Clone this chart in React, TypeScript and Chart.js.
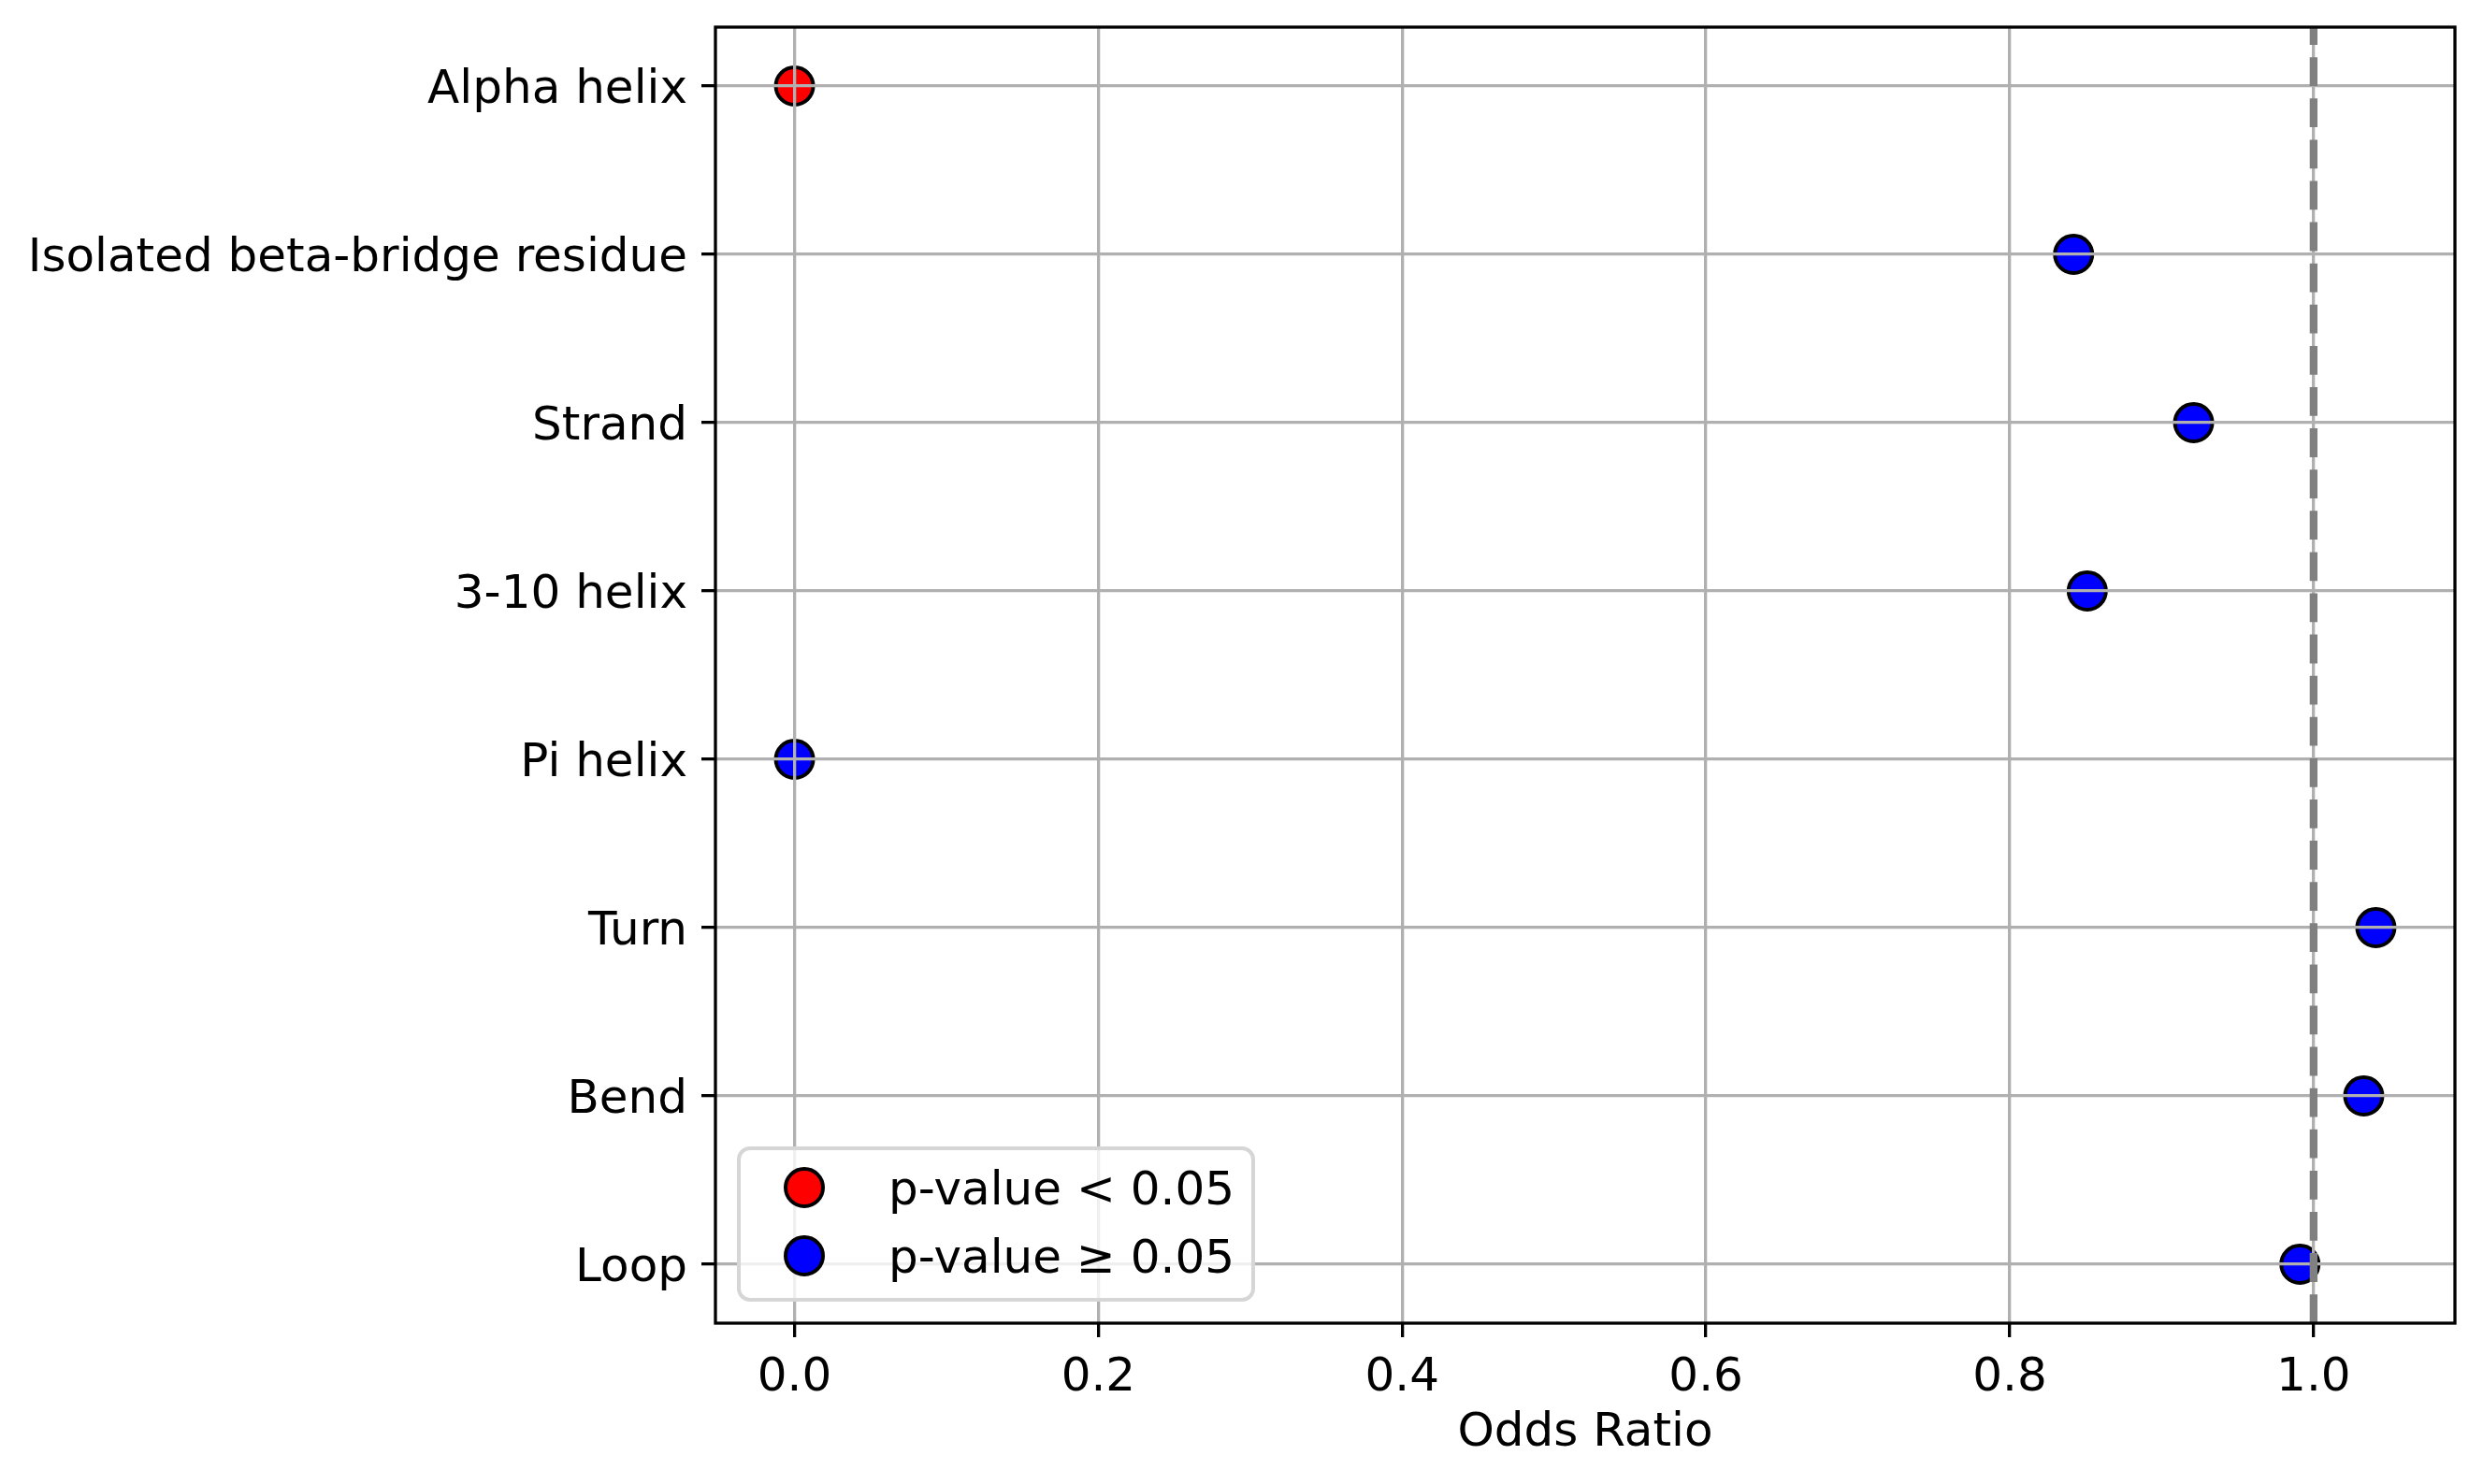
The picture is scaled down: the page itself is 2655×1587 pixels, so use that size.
import React, { useEffect, useRef } from "react";
import { Chart, registerables } from "chart.js";

Chart.register(...registerables);

// ---- data ----
const categories: string[] = [
  "Alpha helix",
  "Isolated beta-bridge residue",
  "Strand",
  "3-10 helix",
  "Pi helix",
  "Turn",
  "Bend",
  "Loop",
];
const oddsRatios: number[] = [0.0, 0.842, 0.921, 0.851, 0.0, 1.041, 1.033, 0.991];
const significant: boolean[] = [true, false, false, false, false, false, false, false];
const xTickValues: number[] = [0.0, 0.2, 0.4, 0.6, 0.8, 1.0];
const referenceLine = 1.0;
const legendLabels: string[] = ["p-value < 0.05", "p-value \u2265 0.05"];
const seriesColors: string[] = ["#ff0000", "#0000ff"];
const xAxisTitle = "Odds Ratio";

const W = 2655;
const H = 1587;
const FONT = "DejaVu Sans";
const FS = 50;

export default function App() {
  const ref = useRef<HTMLCanvasElement | null>(null);

  useEffect(() => {
    if (!ref.current) return;
    Chart.defaults.font.family = FONT;
    Chart.defaults.font.size = FS;
    Chart.defaults.color = "#000000";

    const xmin = Math.min(...oddsRatios);
    const xmax = Math.max(...oddsRatios);
    const xr = xmax - xmin;
    const yr = categories.length - 1;

    const points = categories.map((c, i) => ({ x: oddsRatios[i], y: i, s: significant[i] }));
    const sigData = points.filter((d) => d.s).map((d) => ({ x: d.x, y: d.y }));
    const nsData = points.filter((d) => !d.s).map((d) => ({ x: d.x, y: d.y }));

    const overlay = {
      id: "overlay",
      afterDraw(chart: any) {
        const { ctx, chartArea: a, scales } = chart;
        // reference dashed line
        const px = scales.x.getPixelForValue(referenceLine);
        ctx.save();
        ctx.beginPath();
        ctx.rect(a.left, a.top, a.right - a.left, a.bottom - a.top);
        ctx.clip();
        ctx.strokeStyle = "#808080";
        ctx.lineWidth = 8.3;
        ctx.lineCap = "butt";
        ctx.setLineDash([30.8, 13.3]);
        ctx.beginPath();
        ctx.moveTo(px, a.bottom);
        ctx.lineTo(px, a.top);
        ctx.stroke();
        ctx.restore();

        // frame
        ctx.save();
        ctx.strokeStyle = "#000000";
        ctx.lineWidth = 3.3;
        ctx.strokeRect(a.left, a.top, a.right - a.left, a.bottom - a.top);
        ctx.restore();

        // legend
        ctx.save();
        ctx.font = `${FS}px "${FONT}"`;
        const tw = Math.max(...legendLabels.map((l) => ctx.measureText(l).width));
        const pad = 0.4 * FS;
        const handle = 2 * FS;
        const hpad = 0.8 * FS;
        const bw = pad + handle + hpad + tw + pad;
        const bh = 162;
        const bx = a.left + 0.5 * FS;
        const by = a.bottom - 0.5 * FS - bh;
        ctx.beginPath();
        ctx.roundRect(bx, by, bw, bh, 12);
        ctx.fillStyle = "rgba(255,255,255,0.8)";
        ctx.fill();
        ctx.strokeStyle = "#d6d6d6";
        ctx.lineWidth = 4;
        ctx.stroke();
        const rowsY = [by + 42, by + 115];
        legendLabels.forEach((lab, i) => {
          const cy = rowsY[i];
          const cx = bx + pad + handle / 2;
          ctx.beginPath();
          ctx.arc(cx, cy, 20, 0, Math.PI * 2);
          ctx.fillStyle = seriesColors[i];
          ctx.fill();
          ctx.strokeStyle = "#000000";
          ctx.lineWidth = 4;
          ctx.stroke();
          ctx.fillStyle = "#000000";
          ctx.textAlign = "left";
          ctx.textBaseline = "alphabetic";
          ctx.fillText(lab, bx + pad + handle + hpad, cy + 18);
        });
        ctx.restore();
      },
    };

    const chart = new Chart(ref.current, {
      type: "scatter",
      data: {
        datasets: [
          {
            label: legendLabels[0],
            data: sigData,
            backgroundColor: seriesColors[0],
            borderColor: "#000000",
            borderWidth: 4,
            pointRadius: 20,
            pointHoverRadius: 20,
          },
          {
            label: legendLabels[1],
            data: nsData,
            backgroundColor: seriesColors[1],
            borderColor: "#000000",
            borderWidth: 4,
            pointRadius: 20,
            pointHoverRadius: 20,
          },
        ],
      },
      options: {
        animation: false,
        responsive: false,
        devicePixelRatio: 1,
        events: [],
        layout: { padding: { top: 29, right: 30, left: 0, bottom: 0 } },
        plugins: {
          legend: { display: false },
          tooltip: { enabled: false },
        },
        scales: {
          x: {
            type: "linear",
            position: "bottom",
            min: xmin - 0.05 * xr,
            max: xmax + 0.05 * xr,
            afterBuildTicks: (scale: any) => {
              scale.ticks = xTickValues.map((v) => ({ value: v }));
            },
            afterFit: (scale: any) => {
              scale.height = 172;
              scale.paddingLeft = 0;
              scale.paddingRight = 0;
            },
            ticks: {
              autoSkip: false,
              maxRotation: 0,
              padding: 14,
              color: "#000000",
              font: { family: FONT, size: FS },
              callback: (v: any) => Number(v).toFixed(1),
            },
            grid: {
              color: "#b0b0b0",
              lineWidth: 3.3,
              drawTicks: true,
              tickColor: "#000000",
              tickLength: 15,
              tickWidth: 3.3,
              z: 1,
            },
            border: { display: false },
            title: {
              display: true,
              text: xAxisTitle,
              color: "#000000",
              font: { family: FONT, size: FS },
              padding: { top: 0, bottom: 24 },
            },
          },
          y: {
            type: "linear",
            reverse: true,
            min: -0.05 * yr,
            max: yr + 0.05 * yr,
            afterBuildTicks: (scale: any) => {
              scale.ticks = categories.map((_, i) => ({ value: i }));
            },
            afterFit: (scale: any) => {
              scale.width = 765;
              scale.paddingTop = 0;
              scale.paddingBottom = 0;
            },
            ticks: {
              autoSkip: false,
              padding: 15,
              labelOffset: 5,
              color: "#000000",
              font: { family: FONT, size: FS },
              callback: (v: any) => categories[Math.round(Number(v))] ?? "",
            },
            grid: {
              color: "#b0b0b0",
              lineWidth: 3.3,
              drawTicks: true,
              tickColor: "#000000",
              tickLength: 15,
              tickWidth: 3.3,
              z: 1,
            },
            border: { display: false },
          },
        },
      },
      plugins: [overlay],
    } as any);

    return () => chart.destroy();
  }, []);

  return (
    <div style={{ position: "absolute", left: 0, top: 0, width: W, height: H, background: "#ffffff" }}>
      <canvas ref={ref} width={W} height={H} style={{ width: W, height: H, display: "block" }} />
    </div>
  );
}
